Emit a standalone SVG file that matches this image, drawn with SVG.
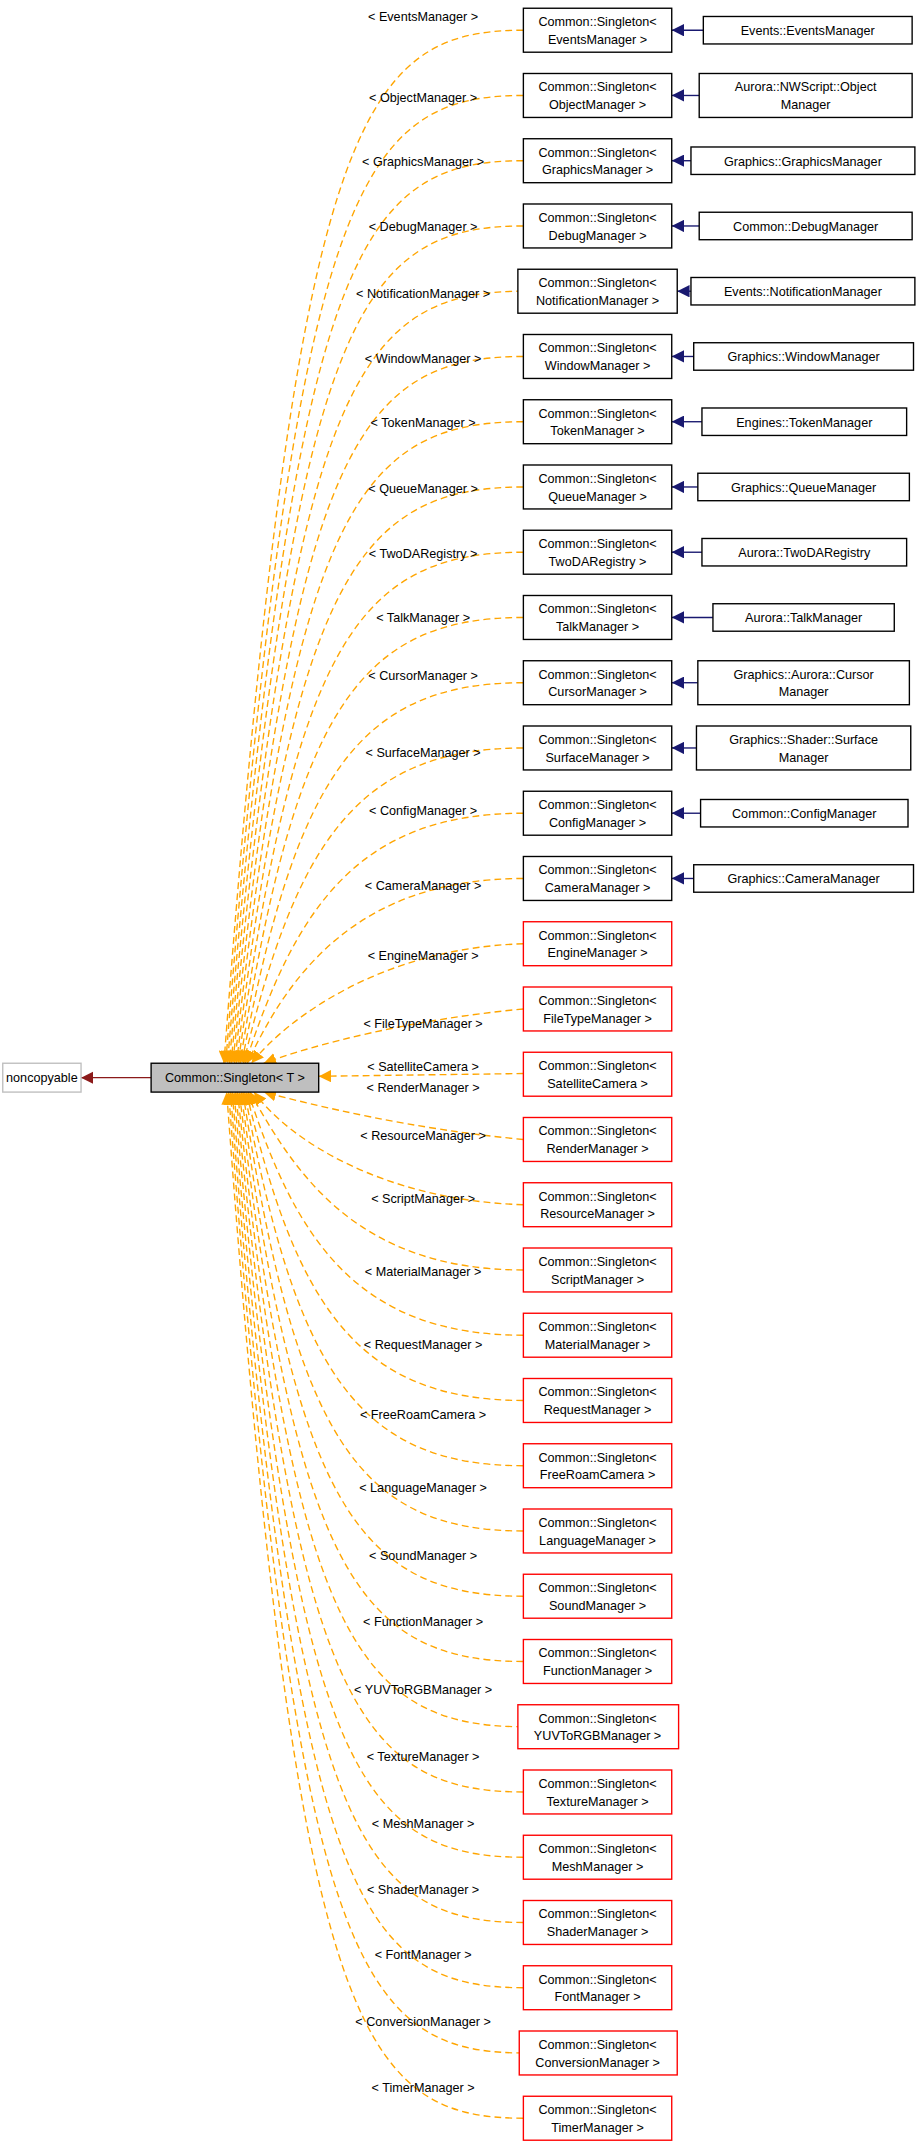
<svg xmlns="http://www.w3.org/2000/svg" width="919" height="2143" viewBox="0 0 919 2143">
<style>
text{font-family:"Liberation Sans",Arial,sans-serif;font-size:9.2px;fill:#000;text-anchor:middle}
.b{fill:#fff;stroke:#000;stroke-width:1}
.r{fill:#fff;stroke:#f00;stroke-width:1}
.o{fill:none;stroke:#ffa500;stroke-width:1;stroke-dasharray:5,3;marker-end:url(#mo)}
.u{fill:none;stroke:#191970;stroke-width:1;marker-end:url(#mb)}
</style>
<defs>
<marker id="mo" viewBox="0 0 10 10" refX="10" refY="5" markerWidth="9" markerHeight="9" markerUnits="userSpaceOnUse" orient="auto"><path d="M0,0L10,5L0,10z" fill="#ffa500"/></marker>
<marker id="mb" viewBox="0 0 10 10" refX="10" refY="5" markerWidth="9" markerHeight="9" markerUnits="userSpaceOnUse" orient="auto"><path d="M0,0L10,5L0,10z" fill="#191970"/></marker>
<marker id="mr" viewBox="0 0 10 10" refX="10" refY="5" markerWidth="9" markerHeight="9" markerUnits="userSpaceOnUse" orient="auto"><path d="M0,0L10,5L0,10z" fill="#8b1a1a"/></marker>
</defs>
<rect width="919" height="2143" fill="#fff"/>
<g transform="scale(1.37369)">
<g id="connectors">
<path d="M110,784.5L59,784.5" fill="none" stroke="#8b1a1a" marker-end="url(#mr)"/>
<path class="o" d="M381,22C260,22 215,92 163,774"/>
<path class="o" d="M381,69.5C260,69.5 215,139.5 164.3,774"/>
<path class="o" d="M381,117C260,117 215,187 165.6,774"/>
<path class="o" d="M381,164.5C260,164.5 215,234.5 166.9,774"/>
<path class="o" d="M381,212C260,212 215,282 168.2,774"/>
<path class="o" d="M381,259.5C260,259.5 215,329.5 169.5,774"/>
<path class="o" d="M381,307C260,307 215,377 170.8,774"/>
<path class="o" d="M381,354.5C260,354.5 215,424.5 172.1,774"/>
<path class="o" d="M381,402C260,402 215,472 173.4,774"/>
<path class="o" d="M381,449.5C260,449.5 215,519.5 174.7,774"/>
<path class="o" d="M381,497C260,497 215,567 176,774"/>
<path class="o" d="M381,544.5C260,544.5 215,614.5 177.3,774"/>
<path class="o" d="M381,592C260,592 215,662 178.6,774"/>
<path class="o" d="M381,639.5C260,639.5 210,709.5 180,774"/>
<path class="o" d="M381,687C280,690 210,740 183,774"/>
<path class="o" d="M381,734.5C300,742 230,760 192,774"/>
<path class="o" d="M381,781.5L232,783.5"/>
<path class="o" d="M381,829.5C300,822 230,805 192,795"/>
<path class="o" d="M381,877C280,874 210,830 185,795"/>
<path class="o" d="M381,924.5C260,924.5 215,854.5 182,795"/>
<path class="o" d="M381,972C260,972 215,902 180.7,795"/>
<path class="o" d="M381,1019.5C260,1019.5 215,949.5 179.4,795"/>
<path class="o" d="M381,1067C260,1067 215,997 178.1,795"/>
<path class="o" d="M381,1114.5C260,1114.5 215,1044.5 176.8,795"/>
<path class="o" d="M381,1162C260,1162 215,1092 175.5,795"/>
<path class="o" d="M381,1209.5C260,1209.5 215,1139.5 174.2,795"/>
<path class="o" d="M381,1257C260,1257 215,1187 172.9,795"/>
<path class="o" d="M381,1304.5C260,1304.5 215,1234.5 171.6,795"/>
<path class="o" d="M381,1352C260,1352 215,1282 170.3,795"/>
<path class="o" d="M381,1399.5C260,1399.5 215,1329.5 169,795"/>
<path class="o" d="M381,1447C260,1447 215,1377 167.7,795"/>
<path class="o" d="M381,1494.5C260,1494.5 215,1424.5 166.4,795"/>
<path class="o" d="M381,1542C260,1542 215,1472 165,795"/>
<path class="u" d="M512,22L489,22"/>
<path class="u" d="M509,69.5L489,69.5"/>
<path class="u" d="M503,117L489,117"/>
<path class="u" d="M509,164.5L489,164.5"/>
<path class="u" d="M503,212L493,212"/>
<path class="u" d="M505,259.5L489,259.5"/>
<path class="u" d="M511,307L489,307"/>
<path class="u" d="M508,354.5L489,354.5"/>
<path class="u" d="M511,402L489,402"/>
<path class="u" d="M519,449.5L489,449.5"/>
<path class="u" d="M508,497L489,497"/>
<path class="u" d="M507,544.5L489,544.5"/>
<path class="u" d="M510,592L489,592"/>
<path class="u" d="M505,639.5L489,639.5"/>
</g>
<g id="labels">
<text x="308" y="15">&lt; EventsManager &gt;</text>
<text x="308" y="74">&lt; ObjectManager &gt;</text>
<text x="308" y="121">&lt; GraphicsManager &gt;</text>
<text x="308" y="168">&lt; DebugManager &gt;</text>
<text x="308" y="217">&lt; NotificationManager &gt;</text>
<text x="308" y="264">&lt; WindowManager &gt;</text>
<text x="308" y="311">&lt; TokenManager &gt;</text>
<text x="308" y="359">&lt; QueueManager &gt;</text>
<text x="308" y="406">&lt; TwoDARegistry &gt;</text>
<text x="308" y="453">&lt; TalkManager &gt;</text>
<text x="308" y="495">&lt; CursorManager &gt;</text>
<text x="308" y="551">&lt; SurfaceManager &gt;</text>
<text x="308" y="593">&lt; ConfigManager &gt;</text>
<text x="308" y="648">&lt; CameraManager &gt;</text>
<text x="308" y="699">&lt; EngineManager &gt;</text>
<text x="308" y="748">&lt; FileTypeManager &gt;</text>
<text x="308" y="780">&lt; SatelliteCamera &gt;</text>
<text x="308" y="795">&lt; RenderManager &gt;</text>
<text x="308" y="830">&lt; ResourceManager &gt;</text>
<text x="308" y="876">&lt; ScriptManager &gt;</text>
<text x="308" y="929">&lt; MaterialManager &gt;</text>
<text x="308" y="982">&lt; RequestManager &gt;</text>
<text x="308" y="1033">&lt; FreeRoamCamera &gt;</text>
<text x="308" y="1086">&lt; LanguageManager &gt;</text>
<text x="308" y="1136">&lt; SoundManager &gt;</text>
<text x="308" y="1184">&lt; FunctionManager &gt;</text>
<text x="308" y="1233">&lt; YUVToRGBManager &gt;</text>
<text x="308" y="1282">&lt; TextureManager &gt;</text>
<text x="308" y="1331">&lt; MeshManager &gt;</text>
<text x="308" y="1379">&lt; ShaderManager &gt;</text>
<text x="308" y="1426">&lt; FontManager &gt;</text>
<text x="308" y="1475">&lt; ConversionManager &gt;</text>
<text x="308" y="1523">&lt; TimerManager &gt;</text>
</g>
<g id="noncopyable"><rect x="2" y="774" width="57" height="21" fill="#fff" stroke="#bfbfbf"/><text x="30.5" y="788">noncopyable</text></g>
<g id="singleton"><rect x="110" y="774" width="122" height="21" fill="#bfbfbf" stroke="#000"/><text x="171" y="788">Common::Singleton&lt; T &gt;</text></g>
<g id="s0"><rect class="b" x="381" y="6" width="108" height="32"/><text x="435" y="19">Common::Singleton&lt;</text><text x="435" y="32">EventsManager &gt;</text></g>
<g id="s1"><rect class="b" x="381" y="53.5" width="108" height="32"/><text x="435" y="66.5">Common::Singleton&lt;</text><text x="435" y="79.5">ObjectManager &gt;</text></g>
<g id="s2"><rect class="b" x="381" y="101" width="108" height="32"/><text x="435" y="114">Common::Singleton&lt;</text><text x="435" y="127">GraphicsManager &gt;</text></g>
<g id="s3"><rect class="b" x="381" y="148.5" width="108" height="32"/><text x="435" y="161.5">Common::Singleton&lt;</text><text x="435" y="174.5">DebugManager &gt;</text></g>
<g id="s4"><rect class="b" x="377" y="196" width="116" height="32"/><text x="435" y="209">Common::Singleton&lt;</text><text x="435" y="222">NotificationManager &gt;</text></g>
<g id="s5"><rect class="b" x="381" y="243.5" width="108" height="32"/><text x="435" y="256.5">Common::Singleton&lt;</text><text x="435" y="269.5">WindowManager &gt;</text></g>
<g id="s6"><rect class="b" x="381" y="291" width="108" height="32"/><text x="435" y="304">Common::Singleton&lt;</text><text x="435" y="317">TokenManager &gt;</text></g>
<g id="s7"><rect class="b" x="381" y="338.5" width="108" height="32"/><text x="435" y="351.5">Common::Singleton&lt;</text><text x="435" y="364.5">QueueManager &gt;</text></g>
<g id="s8"><rect class="b" x="381" y="386" width="108" height="32"/><text x="435" y="399">Common::Singleton&lt;</text><text x="435" y="412">TwoDARegistry &gt;</text></g>
<g id="s9"><rect class="b" x="381" y="433.5" width="108" height="32"/><text x="435" y="446.5">Common::Singleton&lt;</text><text x="435" y="459.5">TalkManager &gt;</text></g>
<g id="s10"><rect class="b" x="381" y="481" width="108" height="32"/><text x="435" y="494">Common::Singleton&lt;</text><text x="435" y="507">CursorManager &gt;</text></g>
<g id="s11"><rect class="b" x="381" y="528.5" width="108" height="32"/><text x="435" y="541.5">Common::Singleton&lt;</text><text x="435" y="554.5">SurfaceManager &gt;</text></g>
<g id="s12"><rect class="b" x="381" y="576" width="108" height="32"/><text x="435" y="589">Common::Singleton&lt;</text><text x="435" y="602">ConfigManager &gt;</text></g>
<g id="s13"><rect class="b" x="381" y="623.5" width="108" height="32"/><text x="435" y="636.5">Common::Singleton&lt;</text><text x="435" y="649.5">CameraManager &gt;</text></g>
<g id="s14"><rect class="r" x="381" y="671" width="108" height="32"/><text x="435" y="684">Common::Singleton&lt;</text><text x="435" y="697">EngineManager &gt;</text></g>
<g id="s15"><rect class="r" x="381" y="718.5" width="108" height="32"/><text x="435" y="731.5">Common::Singleton&lt;</text><text x="435" y="744.5">FileTypeManager &gt;</text></g>
<g id="s16"><rect class="r" x="381" y="766" width="108" height="32"/><text x="435" y="779">Common::Singleton&lt;</text><text x="435" y="792">SatelliteCamera &gt;</text></g>
<g id="s17"><rect class="r" x="381" y="813.5" width="108" height="32"/><text x="435" y="826.5">Common::Singleton&lt;</text><text x="435" y="839.5">RenderManager &gt;</text></g>
<g id="s18"><rect class="r" x="381" y="861" width="108" height="32"/><text x="435" y="874">Common::Singleton&lt;</text><text x="435" y="887">ResourceManager &gt;</text></g>
<g id="s19"><rect class="r" x="381" y="908.5" width="108" height="32"/><text x="435" y="921.5">Common::Singleton&lt;</text><text x="435" y="934.5">ScriptManager &gt;</text></g>
<g id="s20"><rect class="r" x="381" y="956" width="108" height="32"/><text x="435" y="969">Common::Singleton&lt;</text><text x="435" y="982">MaterialManager &gt;</text></g>
<g id="s21"><rect class="r" x="381" y="1003.5" width="108" height="32"/><text x="435" y="1016.5">Common::Singleton&lt;</text><text x="435" y="1029.5">RequestManager &gt;</text></g>
<g id="s22"><rect class="r" x="381" y="1051" width="108" height="32"/><text x="435" y="1064">Common::Singleton&lt;</text><text x="435" y="1077">FreeRoamCamera &gt;</text></g>
<g id="s23"><rect class="r" x="381" y="1098.5" width="108" height="32"/><text x="435" y="1111.5">Common::Singleton&lt;</text><text x="435" y="1124.5">LanguageManager &gt;</text></g>
<g id="s24"><rect class="r" x="381" y="1146" width="108" height="32"/><text x="435" y="1159">Common::Singleton&lt;</text><text x="435" y="1172">SoundManager &gt;</text></g>
<g id="s25"><rect class="r" x="381" y="1193.5" width="108" height="32"/><text x="435" y="1206.5">Common::Singleton&lt;</text><text x="435" y="1219.5">FunctionManager &gt;</text></g>
<g id="s26"><rect class="r" x="377" y="1241" width="117" height="32"/><text x="435" y="1254">Common::Singleton&lt;</text><text x="435" y="1267">YUVToRGBManager &gt;</text></g>
<g id="s27"><rect class="r" x="381" y="1288.5" width="108" height="32"/><text x="435" y="1301.5">Common::Singleton&lt;</text><text x="435" y="1314.5">TextureManager &gt;</text></g>
<g id="s28"><rect class="r" x="381" y="1336" width="108" height="32"/><text x="435" y="1349">Common::Singleton&lt;</text><text x="435" y="1362">MeshManager &gt;</text></g>
<g id="s29"><rect class="r" x="381" y="1383.5" width="108" height="32"/><text x="435" y="1396.5">Common::Singleton&lt;</text><text x="435" y="1409.5">ShaderManager &gt;</text></g>
<g id="s30"><rect class="r" x="381" y="1431" width="108" height="32"/><text x="435" y="1444">Common::Singleton&lt;</text><text x="435" y="1457">FontManager &gt;</text></g>
<g id="s31"><rect class="r" x="378" y="1478.5" width="115" height="32"/><text x="435" y="1491.5">Common::Singleton&lt;</text><text x="435" y="1504.5">ConversionManager &gt;</text></g>
<g id="s32"><rect class="r" x="381" y="1526" width="108" height="32"/><text x="435" y="1539">Common::Singleton&lt;</text><text x="435" y="1552">TimerManager &gt;</text></g>
<g id="c0"><rect class="b" x="512" y="12" width="152" height="20"/><text x="588" y="25.5">Events::EventsManager</text></g>
<g id="c1"><rect class="b" x="509" y="53.5" width="155" height="32"/><text x="586.5" y="66.5">Aurora::NWScript::Object</text><text x="586.5" y="79.5">Manager</text></g>
<g id="c2"><rect class="b" x="503" y="107" width="163" height="20"/><text x="584.5" y="120.5">Graphics::GraphicsManager</text></g>
<g id="c3"><rect class="b" x="509" y="154.5" width="155" height="20"/><text x="586.5" y="168">Common::DebugManager</text></g>
<g id="c4"><rect class="b" x="503" y="202" width="163" height="20"/><text x="584.5" y="215.5">Events::NotificationManager</text></g>
<g id="c5"><rect class="b" x="505" y="249.5" width="160" height="20"/><text x="585" y="263">Graphics::WindowManager</text></g>
<g id="c6"><rect class="b" x="511" y="297" width="149" height="20"/><text x="585.5" y="310.5">Engines::TokenManager</text></g>
<g id="c7"><rect class="b" x="508" y="344.5" width="154" height="20"/><text x="585" y="358">Graphics::QueueManager</text></g>
<g id="c8"><rect class="b" x="511" y="392" width="149" height="20"/><text x="585.5" y="405.5">Aurora::TwoDARegistry</text></g>
<g id="c9"><rect class="b" x="519" y="439.5" width="132" height="20"/><text x="585" y="453">Aurora::TalkManager</text></g>
<g id="c10"><rect class="b" x="508" y="481" width="154" height="32"/><text x="585" y="494">Graphics::Aurora::Cursor</text><text x="585" y="507">Manager</text></g>
<g id="c11"><rect class="b" x="507" y="528.5" width="156" height="32"/><text x="585" y="541.5">Graphics::Shader::Surface</text><text x="585" y="554.5">Manager</text></g>
<g id="c12"><rect class="b" x="510" y="582" width="151" height="20"/><text x="585.5" y="595.5">Common::ConfigManager</text></g>
<g id="c13"><rect class="b" x="505" y="629.5" width="160" height="20"/><text x="585" y="643">Graphics::CameraManager</text></g>
</g>
</svg>
